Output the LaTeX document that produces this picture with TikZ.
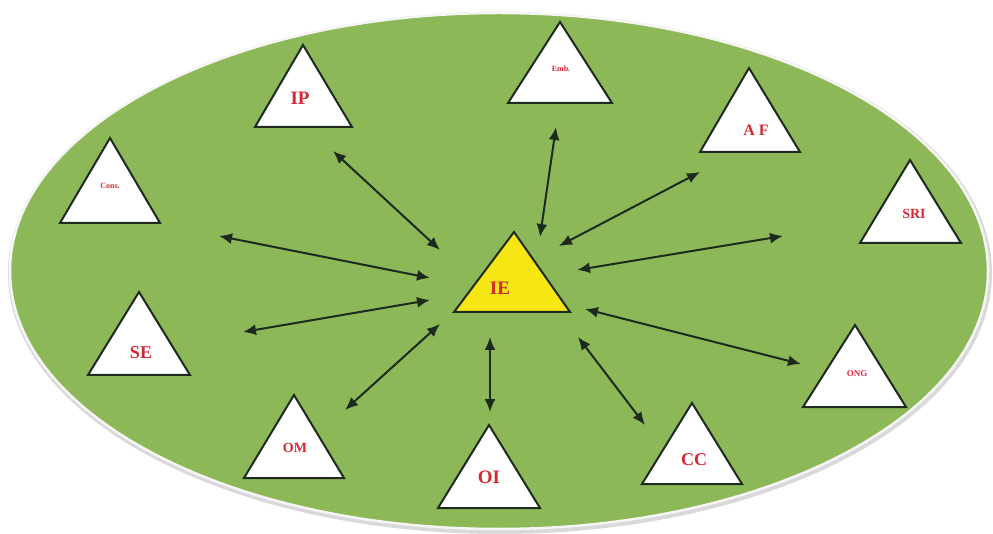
\documentclass[tikz,border=0pt]{standalone}
\usepackage{fontspec}
\setmainfont{Liberation Serif}
\usetikzlibrary{arrows.meta}
\definecolor{leaf}{RGB}{141,184,88}
\definecolor{labred}{RGB}{214,40,52}
\definecolor{ieyel}{RGB}{246,230,20}
\definecolor{edge}{RGB}{30,42,30}
\tikzset{
  tri/.style={fill=white, draw=edge, line width=2pt, line join=miter},
  lab/.style={text=labred, font=\bfseries, inner sep=0pt},
  arr/.style={{Latex[length=13pt,width=11pt]}-{Latex[length=13pt,width=11pt]}, line width=2pt, draw=edge},
}
\begin{document}
\begin{tikzpicture}[x=1pt,y=-1pt]
\useasboundingbox (0,0) rectangle (993,534);
\fill[white] (0,0) rectangle (993,534);
% ellipse with rim
\fill[black!15] (500,273) ellipse [x radius=492, y radius=261];
\fill[leaf, draw=white!92!gray, line width=2.5pt] (499,271) ellipse [x radius=489, y radius=258];
% triangles
\draw[tri] (303,45) -- (352,127) -- (255,127) -- cycle;
\draw[tri] (560,22) -- (612,103) -- (508,103) -- cycle;
\draw[tri] (749,68) -- (800,152) -- (700,152) -- cycle;
\draw[tri] (110,138) -- (160,223) -- (60,223) -- cycle;
\draw[tri] (910,160) -- (961,243) -- (860,243) -- cycle;
\draw[tri, fill=ieyel] (514,232) -- (570,312) -- (454,312) -- cycle;
\draw[tri] (139,292) -- (190,375) -- (88,375) -- cycle;
\draw[tri] (855,325) -- (906,407) -- (803,407) -- cycle;
\draw[tri] (294,395) -- (344,478) -- (244,478) -- cycle;
\draw[tri] (489,425) -- (540,508) -- (438,508) -- cycle;
\draw[tri] (692,403) -- (742,484) -- (642,484) -- cycle;
% labels
\node[lab, font=\bfseries\fontsize{19}{20}\selectfont] (ip) at (300,98) {IP};
\node[lab, font=\bfseries\fontsize{8}{9}\selectfont] (emb) at (561,69) {Emb.};
\node[lab, font=\bfseries\fontsize{16}{18}\selectfont] (af) at (756,130) {A F};
\node[lab, font=\bfseries\fontsize{8}{9}\selectfont] (cons) at (110,186) {Cons.};
\node[lab, font=\bfseries\fontsize{14}{16}\selectfont] (sri) at (914,214) {SRI};
\node[lab, font=\bfseries\fontsize{19}{20}\selectfont] (ie) at (500,288) {IE};
\node[lab, font=\bfseries\fontsize{18}{20}\selectfont] (se) at (141,353) {SE};
\node[lab, font=\bfseries\fontsize{9}{10}\selectfont] (ong) at (857,374) {ONG};
\node[lab, font=\bfseries\fontsize{14}{16}\selectfont] (om) at (295,448) {OM};
\node[lab, font=\bfseries\fontsize{19}{20}\selectfont] (oi) at (489,477) {OI};
\node[lab, font=\bfseries\fontsize{18}{20}\selectfont] (cc) at (694,460) {CC};
% arrow end points
\coordinate (a1) at (333,151); \coordinate (b1) at (440,250);
\coordinate (a2) at (556,127); \coordinate (b2) at (540,237);
\coordinate (a3) at (700,172); \coordinate (b3) at (559,246);
\coordinate (a4) at (219,236); \coordinate (b4) at (430,278);
\coordinate (a5) at (783,236); \coordinate (b5) at (577,270);
\coordinate (a6) at (243,332); \coordinate (b6) at (430,300);
\coordinate (a7) at (801,364); \coordinate (b7) at (585,309);
\coordinate (a8) at (345,410); \coordinate (b8) at (440,324);
\coordinate (a9) at (490,412); \coordinate (b9) at (490,337);
\coordinate (a10) at (645,425); \coordinate (b10) at (578,337);
\foreach \i in {1,...,10} \draw[arr] (a\i) -- (b\i);
\end{tikzpicture}
\end{document}
